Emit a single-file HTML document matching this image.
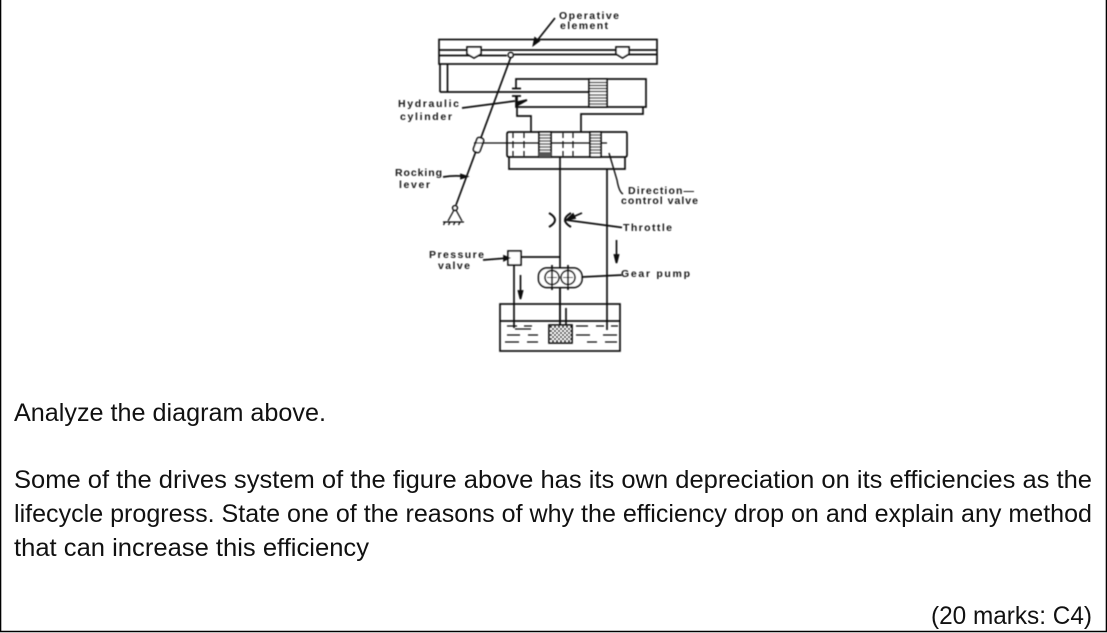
<!DOCTYPE html>
<html><head><meta charset="utf-8"><style>
html,body{margin:0;padding:0;background:#fff;width:1107px;height:633px;overflow:hidden}
svg{display:block}
.b text{font-family:"Liberation Sans",sans-serif;font-size:25px;fill:#111}
.l text{font-family:"Liberation Sans",sans-serif;font-size:10.5px;font-weight:bold;fill:#1a1a1a}
</style></head><body>
<svg width="1107" height="633" viewBox="0 0 1107 633" xmlns="http://www.w3.org/2000/svg">
<defs>
<filter id="s" x="-5%" y="-5%" width="110%" height="110%"><feGaussianBlur stdDeviation="0.45"/></filter>
<pattern id="h" width="4" height="4" patternUnits="userSpaceOnUse"><rect width="4" height="4" fill="#fff"/><rect width="2" height="2" fill="#111"/><rect x="2" y="2" width="2" height="2" fill="#111"/></pattern>
</defs>
<rect width="1107" height="633" fill="#fff"/>
<g fill="none" stroke="#000" stroke-width="1">
<path d="M.5 0V632M1106.5 0V632M0 631.5H1107" stroke-width="1.6"/>
</g>
<g filter="url(#s)" fill="none" stroke="#111" stroke-width="1.7">
<!-- operative element -->
<rect x="439" y="39.5" width="218" height="24.5"/>
<path d="M439 50H467M481 50H616M629 50H657M439 55.500H507M514 54.500H657"/>
<path d="M467 47H481V54L474 58L467 54ZM616 47H629V54L622.500 58L616 54Z" fill="#fff"/>
<circle cx="510.700" cy="55" r="2.500" fill="#fff"/>
<path d="M555 18L536 42"/><path d="M533.500 45L535 38L539 41Z" fill="#111"/>
<!-- frame and rod -->
<path d="M440 64V92M447.500 64V92M440 92H589"/>
<!-- cylinder -->
<path d="M516 88V79H646V107H516V96M512 88.500H521M512 96H521"/>
<rect x="589" y="79" width="18" height="28" fill="#fff"/>
<path d="M589 82.500H607M589 85.500H607M589 88.500H607M589 91.500H607M589 95H607M589 98H607M589 101H607M589 104H607" stroke-width="1.300"/>
<path d="M517 96V107V116H531V132M643 107V114H581V132"/>
<!-- leader cylinder -->
<path d="M462 108L515 101"/><path d="M518 102L527 100L518 105Z" fill="#111"/>
<!-- valve -->
<path d="M509 132H626Q627 132 627 134V155Q627 157 625 157H509Q507 157 507 155V134Q507 132 509 132Z"/>
<path d="M482 143H607" stroke-width="1.200"/>
<path d="M513 133V138M513 141V148M513 151V156M524 133V138M524 141V148M524 151V156M563 133V138M563 141V148M563 151V156M573 133V138M573 141V148M573 151V156" stroke-width="1.200"/>
<rect x="539" y="132" width="12" height="25" fill="#fff"/>
<path d="M539 135H551M539 138H551M539 141H551M539 144H551M539 147H551M539 150H551" stroke-width="1.300"/>
<rect x="539" y="152" width="12" height="5" fill="#555" stroke="none"/>
<rect x="590" y="132" width="11" height="25" fill="#fff"/>
<path d="M590 135H601M590 138H601M590 141H601M590 144H601M590 147H601M590 150H601M590 153H601" stroke-width="1.300"/>
<path d="M509 157V169H625V157"/>
<path d="M609 153L617 180Q619 192 623 194" stroke-width="1.400"/>
<!-- lines -->
<path d="M560 157V325M607 169V330"/>
<!-- lever -->
<path d="M510.700 57.500L456 205"/>
<rect x="-3.500" y="-7.500" width="7" height="15" rx="2.500" transform="translate(478.500 145) rotate(20)" fill="#fff"/>
<path d="M474 143H483" stroke-width="1.200"/>
<circle cx="455" cy="208" r="2.300" fill="#fff"/>
<path d="M454 210L448 221M456 210L462 221M443 222H464M445 222L443.500 225M450 222L448.500 225M455 222L453.500 225M460 222L458.500 225" stroke-width="1.300"/>
<path d="M443 177Q455 175 465 176.500"/><path d="M467 176.500L461 174.500V178.500Z" fill="#111"/>
<!-- throttle -->
<path d="M549 213Q561 220 549 227M571 213Q559 220 571 227" stroke-width="2"/>
<path d="M622 227.500L566 220"/><path d="M582 213L568 219" /><path d="M566.500 220L573 214L575 218Z" fill="#111"/>
<!-- pressure valve -->
<rect x="508" y="251" width="13" height="14" fill="#fff"/>
<path d="M521 257H560M514 265V328M483 260L508 258"/><path d="M509 258L504 256V260.500Z" fill="#111"/>
<path d="M520.500 275V297"/><path d="M520.500 299L518.500 291H522.500Z" fill="#111"/>
<!-- pump -->
<rect x="538.500" y="268" width="43.500" height="19.500" rx="8.500" fill="#fff"/>
<circle cx="552" cy="277.500" r="7"/><circle cx="568" cy="277.500" r="7"/>
<path d="M552 265V290M568 265V290M560 287V300M582 277L622 275"/>
<path d="M547 277.500H557M563 277.500H573" stroke-width="1"/>
<!-- right arrow -->
<path d="M616.500 240V261"/><path d="M616.500 263L614.500 255H618.500Z" fill="#111"/>
<!-- tank -->
<rect x="500" y="304" width="120" height="47"/>
<path d="M500 321H620"/>
<rect x="549" y="325" width="23" height="18" fill="url(#h)" stroke="#111"/>
<path d="M560 300V325M566 308V325"/>
<path d="M507 326H517M524 326H532M515 329H531M507 335H520M528 335H538M505 342H519M527 342H538M576 326H588M596 326H604M611 326H618M576 335H590M603 335H617M587 342H597M605 342H617" stroke-width="1.300"/>
</g>
<g class="l" filter="url(#s)">
<text x="559" y="19" textLength="60">Operative</text>
<text x="560" y="29" textLength="48">element</text>
<text x="398" y="107" textLength="61">Hydraulic</text>
<text x="400" y="120" textLength="52">cylinder</text>
<text x="395" y="176" textLength="47">Rocking</text>
<text x="399" y="188" textLength="31">lever</text>
<text x="628" y="194" textLength="66">Direction—</text>
<text x="621" y="204" textLength="77">control valve</text>
<text x="623" y="231" textLength="49">Throttle</text>
<text x="621" y="277" textLength="69">Gear pump</text>
<text x="429" y="258" textLength="55">Pressure</text>
<text x="438" y="269" textLength="32">valve</text>
</g>
<g class="b">
<text x="14" y="421" textLength="312" lengthAdjust="spacingAndGlyphs">Analyze the diagram above.</text>
<text x="14" y="488" textLength="1078" lengthAdjust="spacingAndGlyphs">Some of the drives system of the figure above has its own depreciation on its efficiencies as the</text>
<text x="14" y="522" textLength="1078" lengthAdjust="spacingAndGlyphs">lifecycle progress. State one of the reasons of why the efficiency drop on and explain any method</text>
<text x="14" y="556" textLength="355" lengthAdjust="spacingAndGlyphs">that can increase this efficiency</text>
<text x="931" y="624" textLength="161" lengthAdjust="spacingAndGlyphs">(20 marks: C4)</text>
</g>
</svg>
</body></html>
